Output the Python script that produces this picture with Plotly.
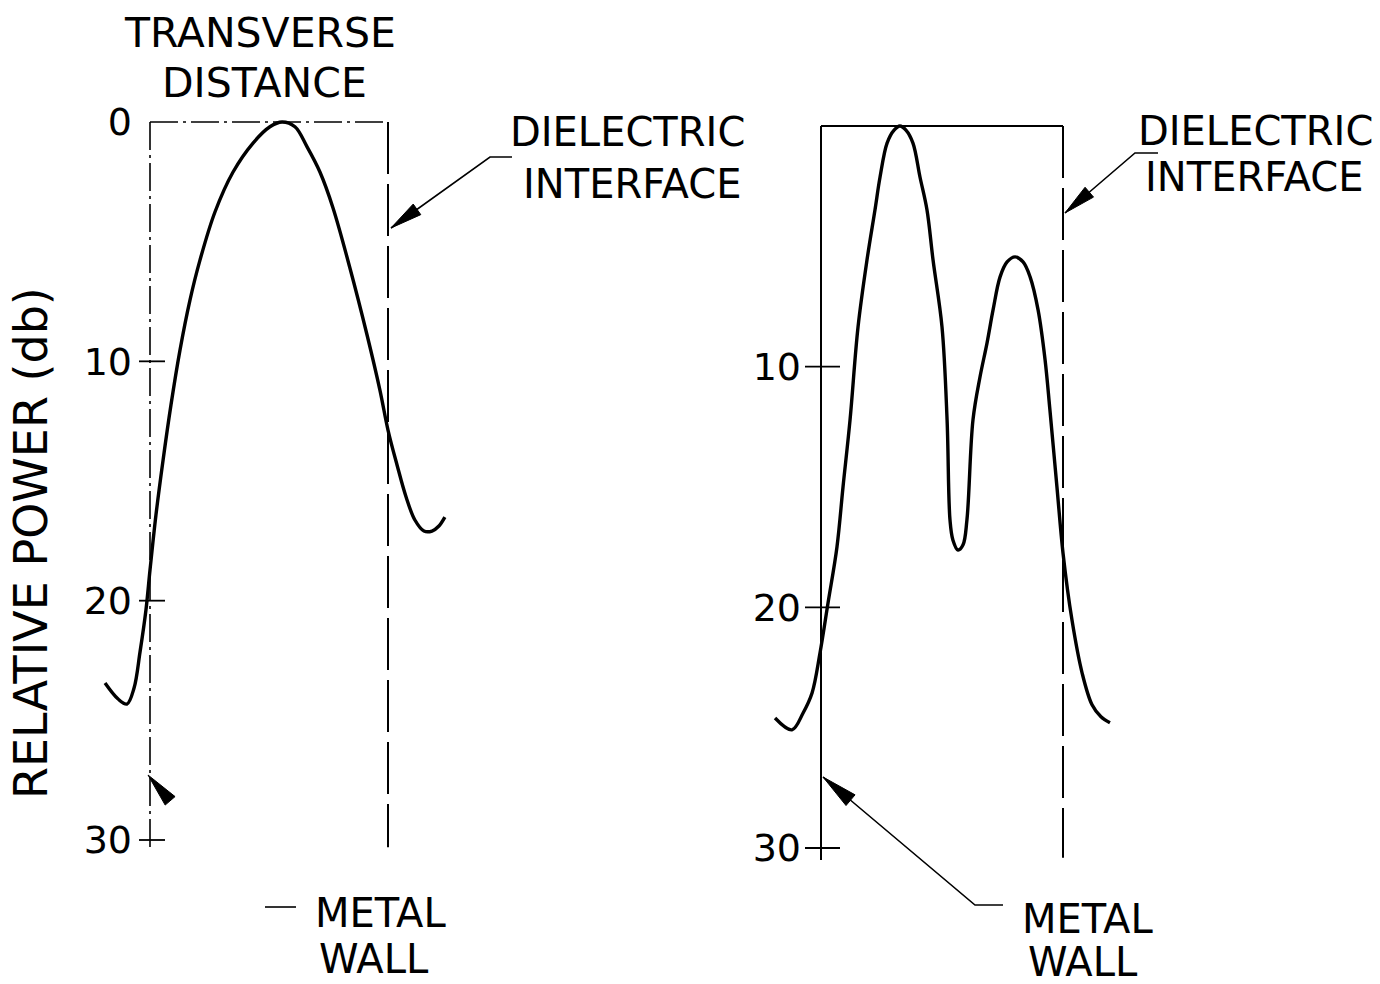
import math
import plotly.graph_objects as go

W, H = 1380, 984

# Transverse distance normalised so the metal wall is 0 and the dielectric interface is 1
left_distance = [-0.189, -0.134, -0.097, -0.067, -0.042, -0.017, 0.0, 0.025, 0.055, 0.088,
                 0.126, 0.168, 0.210, 0.273, 0.349, 0.433, 0.504, 0.555, 0.609, 0.660,
                 0.714, 0.769, 0.840, 0.912, 0.966, 1.0, 1.038, 1.076, 1.113, 1.151,
                 1.185, 1.214, 1.239]
left_power_db = [23.44, 24.11, 24.32, 23.65, 22.15, 20.39, 18.72, 16.42, 14.12, 11.83,
                 9.53, 7.44, 5.77, 3.76, 2.09, 0.88, 0.20, 0.0, 0.20, 1.04,
                 2.09, 3.59, 6.10, 8.90, 11.20, 12.87, 14.33, 15.67, 16.63, 17.09,
                 17.09, 16.88, 16.51]

right_distance = [-0.190, -0.120, -0.074, -0.037, -0.004, 0.029, 0.066, 0.091, 0.120, 0.153,
                  0.190, 0.223, 0.244, 0.273, 0.302, 0.326, 0.351, 0.380, 0.409, 0.438,
                  0.463, 0.500, 0.521, 0.533, 0.545, 0.566, 0.587, 0.603, 0.628, 0.657,
                  0.686, 0.711, 0.740, 0.769, 0.802, 0.835, 0.864, 0.897, 0.926, 0.946,
                  0.975, 1.0, 1.037, 1.079, 1.120, 1.157, 1.194]
right_power_db = [24.60, 25.09, 24.39, 23.56, 21.89, 19.82, 17.49, 15.00, 12.21, 8.35,
                  5.57, 3.49, 2.12, 0.71, 0.17, 0.0, 0.17, 0.71, 2.12, 3.49,
                  5.57, 8.35, 12.21, 16.37, 17.20, 17.62, 17.40, 16.37, 12.21, 10.43,
                  9.02, 7.64, 6.27, 5.65, 5.44, 5.65, 6.27, 7.64, 9.72, 11.80,
                  15.00, 17.74, 20.52, 22.73, 24.05, 24.55, 24.80]

left_label_ticks = [0, 10, 20, 30]
right_label_ticks = [10, 20, 30]
cross_ticks = [10, 20, 30]

FONT = "DejaVu Sans"

# Panel placement (page pixels)
panels = {
    "left": dict(wall=150, iface=388, db0=122, db30=840, dx=(88, 470), dy=(95, 885)),
    "right": dict(wall=821, iface=1063, db0=126, db30=848, dx=(755, 1130), dy=(95, 885)),
}


def axis_setup(p):
    span = p["iface"] - p["wall"]
    xr = [(p["dx"][0] - p["wall"]) / span, (p["dx"][1] - p["wall"]) / span]
    per_db = (p["db30"] - p["db0"]) / 30.0
    yr = [(p["dy"][1] - p["db0"]) / per_db, (p["dy"][0] - p["db0"]) / per_db]
    xdom = [p["dx"][0] / W, p["dx"][1] / W]
    ydom = [1 - p["dy"][1] / H, 1 - p["dy"][0] / H]
    return xr, yr, xdom, ydom


def P(px, py):
    return px / W, 1 - py / H


curve_line = dict(color="black", width=3.4, shape="spline", smoothing=1.0)

fig = go.Figure()
fig.add_trace(go.Scatter(x=left_distance, y=left_power_db, mode="lines", line=curve_line,
                         xaxis="x", yaxis="y", showlegend=False, hoverinfo="skip"))
fig.add_trace(go.Scatter(x=right_distance, y=right_power_db, mode="lines", line=curve_line,
                         xaxis="x2", yaxis="y2", showlegend=False, hoverinfo="skip"))

lxr, lyr, lxd, lyd = axis_setup(panels["left"])
rxr, ryr, rxd, ryd = axis_setup(panels["right"])

hidden_x = dict(visible=False, showgrid=False, zeroline=False, fixedrange=True)
fig.update_layout(
    width=W, height=H,
    margin=dict(l=0, r=0, t=0, b=0),
    paper_bgcolor="white", plot_bgcolor="white",
    xaxis=dict(hidden_x, range=lxr, domain=lxd, anchor="y"),
    xaxis2=dict(hidden_x, range=rxr, domain=rxd, anchor="y2"),
    yaxis=dict(range=lyr, domain=lyd, anchor="free", position=panels["left"]["wall"] / W,
               tickvals=left_label_ticks, ticktext=[str(v) for v in left_label_ticks],
               ticks="", showline=False, showgrid=False, zeroline=False,
               ticklabelstandoff=18, tickfont=dict(family=FONT, size=38, color="black")),
    yaxis2=dict(range=ryr, domain=ryd, anchor="free", position=panels["right"]["wall"] / W,
                tickvals=right_label_ticks, ticktext=[str(v) for v in right_label_ticks],
                ticks="", showline=False, showgrid=False, zeroline=False,
                ticklabelstandoff=20, tickfont=dict(family=FONT, size=38, color="black")),
)

shapes = []
# Left panel: dash-dot metal wall and top edge, dashed dielectric interface
dashdot = "28px,5px,3px,5px"
shapes.append(dict(type="line", xref="x", yref="y", x0=0, x1=0, y0=0, y1=30.4,
                   line=dict(color="black", width=1.6, dash=dashdot)))
shapes.append(dict(type="line", xref="x", yref="y", x0=0, x1=1, y0=0, y1=0,
                   line=dict(color="black", width=1.6, dash=dashdot)))
shapes.append(dict(type="line", xref="x", yref="y", x0=1, x1=1, y0=0, y1=30.3,
                   line=dict(color="black", width=2, dash="52px,10px")))
# Right panel: solid metal wall and top edge, dashed dielectric interface
shapes.append(dict(type="line", xref="x2", yref="y2", x0=0, x1=0, y0=0, y1=30.5,
                   line=dict(color="black", width=2)))
shapes.append(dict(type="line", xref="x2", yref="y2", x0=0, x1=1, y0=0, y1=0,
                   line=dict(color="black", width=2)))
shapes.append(dict(type="line", xref="x2", yref="y2", x0=1, x1=1, y0=0, y1=30.4,
                   line=dict(color="black", width=2, dash="52px,10px")))

# "+" tick crosses on the wall lines
for v in cross_ticks:
    shapes.append(dict(type="line", xref="x", yref="y", xsizemode="pixel", xanchor=0,
                       x0=-11, x1=15, y0=v, y1=v, line=dict(color="black", width=1.8)))
    shapes.append(dict(type="line", xref="x2", yref="y2", xsizemode="pixel", xanchor=0,
                       x0=-16, x1=19, y0=v, y1=v, line=dict(color="black", width=1.8)))


def polyline(points):
    d = "M " + " L ".join(f"{P(x, y)[0]:.5f},{P(x, y)[1]:.5f}" for x, y in points)
    return dict(type="path", xref="paper", yref="paper", path=d,
                line=dict(color="black", width=1.6))


def arrowhead(tip, back, length, half):
    """Filled narrow triangle with its point at tip, aimed away from back."""
    tx, ty = tip
    bx, by = back
    dx, dy = bx - tx, by - ty
    n = math.hypot(dx, dy)
    ux, uy = dx / n, dy / n
    cx, cy = tx + ux * length, ty + uy * length
    nx, ny = -uy, ux
    pts = [(tx, ty), (cx + nx * half, cy + ny * half), (cx - nx * half, cy - ny * half)]
    d = "M " + " L ".join(f"{P(x, y)[0]:.5f},{P(x, y)[1]:.5f}" for x, y in pts) + " Z"
    return dict(type="path", xref="paper", yref="paper", path=d,
                fillcolor="black", line=dict(color="black", width=1))


def pointer(points, length, half):
    return [polyline(points), arrowhead(points[-1], points[-2], length, half)]


# Dielectric interface pointers
shapes += pointer([(512, 157), (490, 157), (391, 228)], 32, 6.5)
shapes += pointer([(1158, 153), (1135, 153), (1065, 213)], 32, 6.5)

# Metal wall pointers
shapes.append(arrowhead((148, 775), (172, 803), 34, 6.5))
shapes.append(polyline([(265, 907), (296, 907)]))
shapes += pointer([(1003, 905), (975, 905), (823, 777)], 36, 7)

annotations = []


def label(text, cx, cy, size=40, angle=0):
    x, y = P(cx, cy)
    annotations.append(dict(text=text, x=x, y=y, xref="paper", yref="paper",
                            showarrow=False, xanchor="center", yanchor="middle",
                            textangle=angle,
                            font=dict(family=FONT, size=size, color="black")))


label("TRANSVERSE", 260, 33, size=41)
label("DISTANCE", 264, 83, size=41)
label("DIELECTRIC", 627, 132)
label("INTERFACE", 632, 184)
label("DIELECTRIC", 1255, 131)
label("INTERFACE", 1254, 177)
label("METAL", 380, 913)
label("WALL", 374, 959)
label("METAL", 1087, 919)
label("WALL", 1083, 962)
label("RELATIVE POWER (db)", 31, 543, size=46, angle=-90)

fig.update_layout(shapes=shapes, annotations=annotations)
fig.write_html("out.html")
